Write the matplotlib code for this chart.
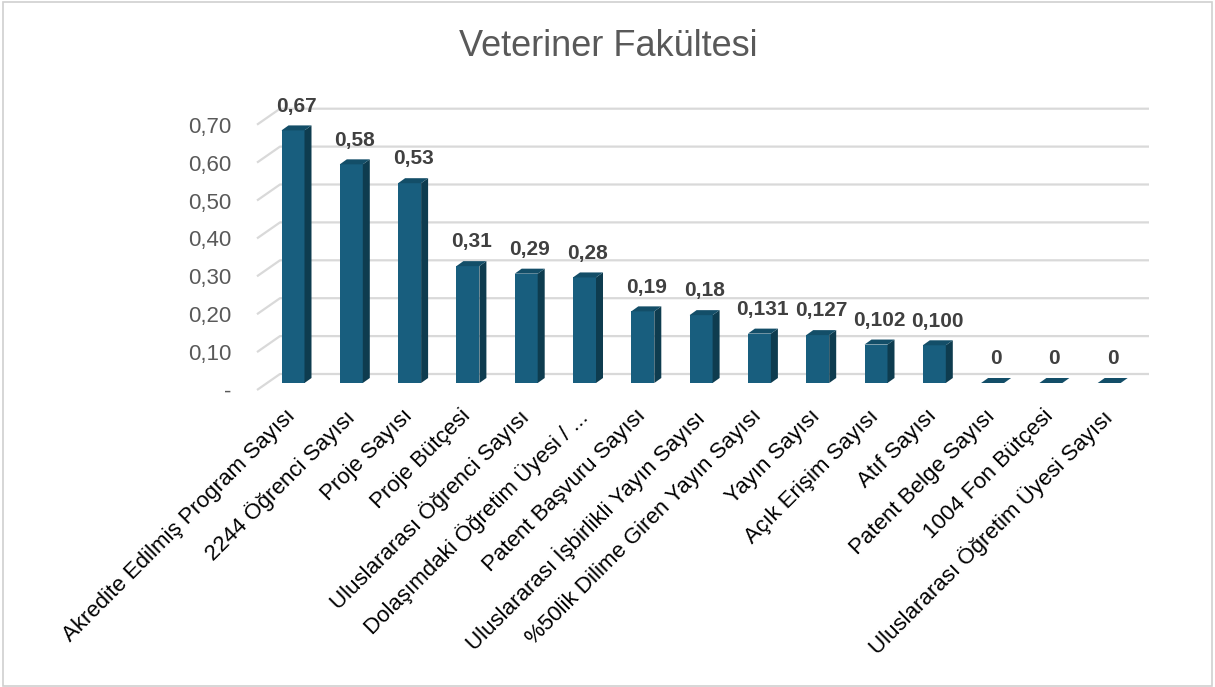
import matplotlib
matplotlib.use('Agg')
import matplotlib.pyplot as plt
from matplotlib.patches import Polygon, Rectangle
import numpy as np

plt.rcParams['font.family'] = ['Liberation Sans', 'DejaVu Sans']

title = 'Veteriner Fakültesi'
categories = [
    'Akredite Edilmiş Program Sayısı',
    '2244 Öğrenci Sayısı',
    'Proje Sayısı',
    'Proje Bütçesi',
    'Uluslararası Öğrenci Sayısı',
    'Dolaşımdaki Öğretim Üyesi / ...',
    'Patent Başvuru Sayısı',
    'Uluslararası İşbirlikli Yayın Sayısı',
    '%50lik Dilime Giren Yayın Sayısı',
    'Yayın Sayısı',
    'Açık Erişim Sayısı',
    'Atıf Sayısı',
    'Patent Belge Sayısı',
    '1004 Fon Bütçesi',
    'Uluslararası Öğretim Üyesi Sayısı',
]
values = [0.67, 0.58, 0.53, 0.31, 0.29, 0.28, 0.19, 0.18, 0.131, 0.127, 0.102, 0.100, 0, 0, 0]
value_labels = ['0,67', '0,58', '0,53', '0,31', '0,29', '0,28', '0,19', '0,18',
                '0,131', '0,127', '0,102', '0,100', '0', '0', '0']
y_ticks = [0, 0.1, 0.2, 0.3, 0.4, 0.5, 0.6, 0.7]
y_tick_labels = ['-', '0,10', '0,20', '0,30', '0,40', '0,50', '0,60', '0,70']

W, H = 1215, 687
fig = plt.figure(figsize=(W / 100, H / 100), dpi=100)

# axes placed in pixels: 58.3 px per category, 377 px per unit, zero at y=383
px_cat, px_val = 58.3, 377.0
ax_l, ax_r, ax_t, ax_b = 240, 1160, 90, 400
ax = fig.add_axes([ax_l / W, 1 - ax_b / H, (ax_r - ax_l) / W, (ax_b - ax_t) / H])
ax.set_xlim((ax_l - 293) / px_cat, (ax_r - 293) / px_cat)
ax.set_ylim(-(ax_b - 383) / px_val, (383 - ax_t) / px_val)
for s in ax.spines.values():
    s.set_visible(False)

# 3d-like wall / floor offsets (data units)
front_x = (257 - 293) / px_cat
back_x = (280 - 293) / px_cat
right_x = (1149 - 293) / px_cat
front_dy = (383 - 390) / px_val
back_dy = (383 - 374) / px_val
grid_c = '#D9D9D9'
for v in y_ticks:
    yb = back_dy + v * 379 / px_val
    yf = front_dy + v * 379 / px_val
    ax.plot([front_x, back_x, right_x], [yf, yb, yb], color=grid_c, lw=1.6, zorder=1,
            solid_capstyle='butt')

ax.set_yticks([front_dy + v * 379 / px_val for v in y_ticks])
ax.set_yticklabels(y_tick_labels, fontsize=16, color='#595959')
ax.tick_params(axis='y', length=0, pad=6)

# bars
x = np.arange(len(values))
bw = 23 / px_cat
ddx, ddy = 7 / px_cat, 5 / px_val
c_front, c_side, c_top = '#185E7E', '#0E3C4F', '#134E68'
ax.bar(x, values, width=bw, color=c_front, zorder=3)
for xi, v in zip(x, values):
    xl, xr = xi - bw / 2, xi + bw / 2
    if v > 0:
        ax.add_patch(Polygon([(xr, 0), (xr + ddx, ddy), (xr + ddx, v + ddy), (xr, v)],
                             closed=True, color=c_side, lw=0, zorder=3))
    ax.add_patch(Polygon([(xl, v), (xr, v), (xr + ddx, v + ddy), (xl + ddx, v + ddy)],
                         closed=True, color=c_top, lw=0, zorder=3))

for xi, v, lab in zip(x, values, value_labels):
    ax.annotate(lab, (xi + ddx / 2, v + ddy), xytext=(0, 7), textcoords='offset points',
                ha='center', va='bottom', fontsize=15, fontweight='bold', color='#404040')

# category labels end slightly left of the bar centre
ax.set_xticks(x - 8 / px_cat)
ax.set_xticklabels(categories, rotation=45, ha='right', va='top', rotation_mode='anchor',
                   fontsize=16, color='black')
ax.tick_params(axis='x', length=0, pad=4)

fig.text(608 / W, 1 - 46 / H, title, ha='center', va='center', fontsize=26, color='#595959')

fig.patches.append(Rectangle((3 / W, 1 / H), (1212 - 3) / W, (686 - 2) / H,
                             transform=fig.transFigure, fill=False, edgecolor='#D0D0D0', lw=1.2))

fig.savefig('out.png', dpi=100)
